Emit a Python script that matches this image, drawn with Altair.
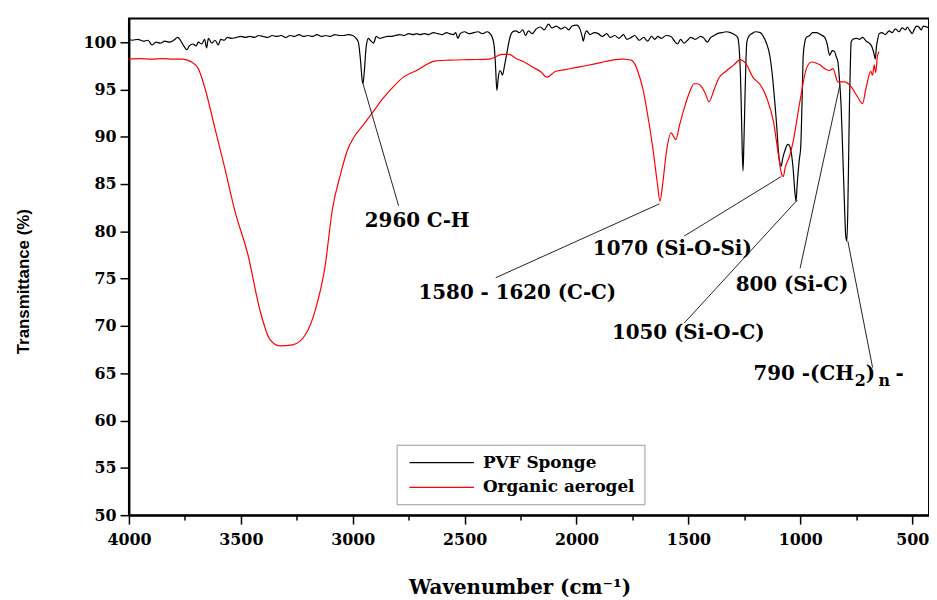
import altair as alt
import pandas as pd

# ---------------- data ----------------
pvf_wn = [4000, 3985, 3960, 3935, 3915, 3897, 3880, 3860, 3840, 3820, 3800, 3782, 3765, 3752, 3742, 3730, 3715, 3700, 3690, 3675,
          3662, 3653, 3645, 3630, 3615, 3601, 3590, 3575, 3560, 3542, 3520, 3500, 3480, 3460, 3440, 3420, 3400, 3380, 3360, 3340,
          3320, 3300, 3280, 3260, 3240, 3220, 3200, 3180, 3160, 3140, 3120, 3100, 3080, 3060, 3040, 3020, 3000, 2985, 2975, 2965,
          2958, 2954, 2948, 2940, 2930, 2922, 2907, 2895, 2880, 2863, 2845, 2830, 2810, 2790, 2770, 2750, 2730, 2715, 2700, 2680,
          2660, 2640, 2620, 2600, 2580, 2568, 2550, 2540, 2530, 2520, 2500, 2480, 2460, 2440, 2420, 2400, 2390, 2378, 2368, 2362,
          2356, 2350, 2342, 2336, 2331, 2322, 2313, 2304, 2295, 2285, 2272, 2255, 2240, 2228, 2215, 2198, 2180, 2161, 2145, 2125,
          2110, 2090, 2070, 2051, 2035, 2020, 1999, 1985, 1975, 1970, 1962, 1955, 1940, 1920, 1903, 1885, 1865, 1850, 1829, 1810,
          1790, 1775, 1755, 1740, 1720, 1700, 1682, 1665, 1650, 1637, 1620, 1600, 1578, 1565, 1549, 1535, 1520, 1504, 1490, 1470,
          1445, 1430, 1416, 1400, 1385, 1371, 1350, 1330, 1312, 1295, 1280, 1270, 1265, 1260, 1256, 1252, 1247, 1243, 1239, 1228,
          1216, 1200, 1179, 1165, 1150, 1140, 1132, 1122, 1113, 1105, 1098, 1092, 1086, 1078, 1068, 1060, 1054, 1046, 1039, 1030,
          1025, 1019, 1014, 1005, 998, 992, 987, 980, 973, 958, 945, 929, 910, 891, 880, 869, 858, 847, 840, 832,
          825, 818, 810, 803, 797, 792, 788, 784, 780, 776, 773, 765, 750, 735, 722, 705, 692, 682, 677, 670,
          665, 660, 655, 647, 635, 620, 603, 590, 575, 559, 545, 530, 522, 510, 500, 490, 480, 470, 460, 450, 425]
pvf_t = [100.3, 100.2, 100.3, 100.1, 100.2, 99.7, 100.0, 99.9, 100.1, 100.0, 100.2, 100.5, 100.0, 99.5, 99.2, 99.6, 99.8, 99.6, 100.0, 99.8,
         100.3, 99.4, 100.4, 99.9, 100.2, 99.7, 100.3, 100.2, 100.5, 100.4, 100.5, 100.6, 100.5, 100.6, 100.5, 100.7, 100.6, 100.5, 100.7, 100.6,
         100.7, 100.5, 100.7, 100.6, 100.8, 100.6, 100.7, 100.6, 100.8, 100.6, 100.7, 100.6, 100.8, 100.7, 100.7, 100.8, 100.7, 100.4, 100.0, 98.0,
         96.0, 95.6, 97.0, 99.5, 100.4, 100.2, 99.9, 100.6, 100.4, 100.5, 100.6, 100.6, 100.7, 100.8, 100.7, 100.9, 100.8, 100.9, 100.8, 100.9,
         100.8, 101.0, 100.9, 100.8, 101.0, 100.9, 100.8, 101.0, 100.4, 100.9, 101.1, 100.9, 101.0, 101.1, 100.9, 101.1, 101.0, 100.6, 99.6, 97.5,
         94.9, 96.2, 97.0, 96.8, 96.5, 97.5, 98.6, 99.8, 100.7, 101.1, 101.2, 101.0, 101.3, 100.7, 101.2, 100.9, 101.4, 101.6, 101.3, 101.9,
         101.5, 101.7, 101.4, 101.6, 101.3, 101.7, 101.8, 101.4, 100.6, 100.1, 100.9, 101.2, 100.8, 101.0, 100.9, 100.6, 100.9, 100.5, 100.7, 100.4,
         100.8, 100.3, 100.5, 100.7, 100.2, 100.5, 100.1, 100.6, 100.3, 100.6, 100.4, 100.7, 100.6, 100.2, 99.8, 100.3, 99.9, 100.2, 100.5, 100.3,
         100.6, 100.4, 100.0, 100.5, 100.7, 100.9, 101.0, 101.1, 101.0, 100.8, 100.5, 98.0, 94.4, 89.0, 86.4, 89.5, 94.4, 98.0, 100.0, 100.7,
         100.9, 101.1, 101.0, 100.6, 99.8, 99.0, 97.9, 95.8, 93.4, 91.0, 88.5, 87.3, 86.9, 87.8, 88.6, 89.1, 89.2, 88.9, 88.1, 86.0,
         84.3, 83.2, 85.0, 87.5, 89.0, 94.0, 98.6, 100.0, 100.5, 100.7, 101.0, 101.0, 100.8, 100.5, 99.8, 98.6, 99.1, 99.0, 98.5, 97.9,
         96.0, 93.4, 88.0, 83.0, 79.5, 79.0, 82.0, 88.0, 94.0, 98.0, 100.0, 100.3, 100.4, 100.3, 100.5, 100.1, 99.9, 99.6, 99.3, 98.7,
         98.2, 99.5, 100.2, 100.9, 101.0, 100.8, 101.2, 101.0, 101.4, 101.1, 101.5, 101.3, 101.6, 101.2, 100.9, 101.4, 101.7, 101.6, 101.3, 101.7, 101.5]

aero_wn = [4000, 3950, 3900, 3850, 3800, 3760, 3740, 3720, 3690, 3660, 3616, 3572, 3527, 3468, 3415, 3371, 3327, 3269, 3211, 3167,
           3123, 3092, 3055, 3025, 2996, 2951, 2907, 2863, 2818, 2774, 2715, 2634, 2568, 2480, 2390, 2331, 2301, 2272, 2243, 2213,
           2184, 2161, 2132, 2095, 2050, 2006, 1960, 1918, 1870, 1829, 1790, 1770, 1755, 1740, 1726, 1704, 1682, 1659, 1640, 1627,
           1615, 1600, 1578, 1556, 1540, 1519, 1495, 1475, 1460, 1445, 1425, 1408, 1385, 1364, 1334, 1297, 1268, 1246, 1209, 1179,
           1150, 1120, 1098, 1083, 1076, 1068, 1046, 1032, 1002, 973, 950, 930, 913, 890, 869, 854, 832, 803, 773, 744,
           722, 707, 685, 677, 670, 663, 655, 648]
aero_t = [98.2, 98.25, 98.2, 98.25, 98.2, 98.2, 98.1, 97.9, 97.2, 95.1, 90.9, 86.7, 82.2, 77.5, 71.7, 68.6, 67.9, 68.0, 69.1, 71.7,
          76.4, 82.2, 86.0, 88.5, 89.9, 91.3, 92.7, 94.1, 95.3, 96.3, 97.0, 98.0, 98.1, 98.15, 98.2, 98.7, 98.7, 98.3, 98.0, 97.6,
          97.2, 96.9, 96.3, 96.9, 97.1, 97.3, 97.5, 97.7, 97.95, 98.15, 98.2, 98.15, 98.1, 97.7, 96.9, 95.1, 92.3, 88.8, 85.3, 83.2,
          85.0, 88.1, 90.4, 89.7, 91.2, 93.0, 94.7, 95.6, 95.6, 95.4, 94.6, 93.7, 95.0, 96.2, 96.9, 97.6, 98.15, 97.8, 96.2, 95.5,
          94.1, 91.6, 88.1, 86.0, 85.8, 86.7, 88.1, 89.5, 93.7, 97.2, 97.9, 97.8, 97.6, 97.2, 97.0, 97.2, 95.8, 95.8, 95.3, 94.2,
          93.5, 95.1, 96.9, 96.5, 97.6, 96.8, 98.6, 99.0]

series_names = ["PVF Sponge", "Organic aerogel"]
series_colors = ["#000000", "#ff0000"]

ann_text = ["2960 C-H", "1580 - 1620 (C-C)", "1070 (Si-O-Si)", "1050 (Si-O-C)", "800 (Si-C)", "790 -(CH", ")", "-"]
ann_wn = [2946, 2706, 1927, 1842, 1289, 1209, 708, 575]
ann_t = [81.1, 73.5, 78.1, 69.2, 74.3, 64.9, 64.9, 64.9]

sub_text = ["2", "n"]
sub_wn = [757, 651]
sub_t = [64.9, 64.9]

lead_wn1 = [2954, 1630, 1085, 1014, 823, 788]
lead_t1 = [95.6, 82.9, 85.8, 83.3, 95.5, 79.0]
lead_wn2 = [2795, 2361, 1519, 1519, 1001, 677]
lead_t2 = [82.7, 75.1, 79.5, 70.3, 76.1, 65.6]

x_ticks = list(range(500, 4001, 250))
y_ticks = [50 + 2.5 * i for i in range(21)]

# ---------------- frames ----------------
spec_df = pd.concat([
    pd.DataFrame({"wn": pvf_wn, "T": pvf_t, "series": series_names[0]}),
    pd.DataFrame({"wn": aero_wn, "T": aero_t, "series": series_names[1]}),
], ignore_index=True)
ann_df = pd.DataFrame({"wn": ann_wn, "T": ann_t, "label": ann_text})
sub_df = pd.DataFrame({"wn": sub_wn, "T": sub_t, "label": sub_text})
lead_df = pd.DataFrame({"wn": lead_wn1, "T": lead_t1, "wn2": lead_wn2, "T2": lead_t2})

SERIF = "DejaVu Serif"

x_enc = alt.X(
    "wn:Q",
    scale=alt.Scale(domain=[425, 4000], reverse=True, nice=False, zero=False),
    axis=alt.Axis(
        values=x_ticks,
        labelExpr="datum.value % 500 === 0 ? format(datum.value, 'd') : ''",
        tickSize={"condition": {"test": "datum.value % 500 === 0", "value": 9}, "value": 5},
        labelPadding=8, labelFlush=False,
        title="Wavenumber (cm⁻¹)",
        titleFont=SERIF, titleFontSize=20, titleFontWeight="bold",
        titleX=394, titleY=73, titleBaseline="middle", titleAlign="center",
    ),
)
y_enc = alt.Y(
    "T:Q",
    scale=alt.Scale(domain=[50, 102.5], nice=False, zero=False),
    axis=alt.Axis(
        values=y_ticks,
        labelExpr="datum.value % 5 === 0 ? format(datum.value, 'd') : ''",
        tickSize={"condition": {"test": "datum.value % 5 === 0", "value": 9}, "value": 5},
        labelPadding=4, labelFlush=False,
        title="Transmittance (%)",
        titleFont="Liberation Sans", titleFontSize=17, titleFontWeight="bold",
        titleX=-106, titleY=265, titleBaseline="middle", titleAlign="center", titleAngle=270,
    ),
)

lines = alt.Chart(spec_df).mark_line(strokeWidth=1.2, clip=True, interpolate="monotone").encode(
    x=x_enc,
    y=y_enc,
    color=alt.Color(
        "series:N",
        scale=alt.Scale(domain=series_names, range=series_colors),
        legend=alt.Legend(
            title=None, orient="none", legendX=270, legendY=430,
            symbolType="M-0.625,0H7.5", symbolSize=256, symbolStrokeWidth=1.2,
            labelFont=SERIF, labelFontSize=17, labelFontWeight="bold", labelColor="black",
            labelOffset=60, rowPadding=8, padding=9, labelLimit=0,
            strokeColor="#999999", fillColor="white",
        ),
    ),
    detail="series:N",
)

leaders = alt.Chart(lead_df).mark_rule(color="#222222", strokeWidth=1).encode(
    x="wn:Q", y="T:Q", x2="wn2:Q", y2="T2:Q"
)

texts = alt.Chart(ann_df).mark_text(
    font=SERIF, fontWeight="bold", fontSize=20, align="left", baseline="middle", color="black"
).encode(x="wn:Q", y="T:Q", text="label:N")

subs = alt.Chart(sub_df).mark_text(
    font=SERIF, fontWeight="bold", fontSize=16, align="left", baseline="middle", color="black", dy=7
).encode(x="wn:Q", y="T:Q", text="label:N")

chart = alt.layer(lines, leaders, texts, subs).properties(
    width=807, height=501,
    autosize=alt.AutoSizeParams(type="none"),
    padding={"left": 122, "top": 8, "right": 0, "bottom": 84},
).configure_axis(
    domainColor="black", domainWidth=2, tickColor="black", tickWidth=1.5,
    labelFont=SERIF, labelFontWeight="bold", labelFontSize=16, labelColor="black",
    titleColor="black", grid=False,
).configure_view(stroke="black", strokeWidth=2)

chart.save("out.html", embed_options={"renderer": "svg", "actions": False})
